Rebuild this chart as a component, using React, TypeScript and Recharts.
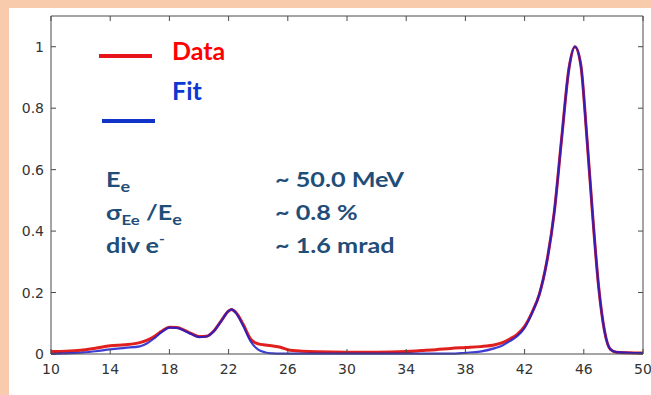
import { LineChart, Line, XAxis, YAxis } from "recharts"

// electron energy (MeV) sample points
const energy = [
  10, 11, 12, 13, 14, 15, 16, 16.5, 17, 17.5, 18, 18.5, 19, 19.5, 20, 20.5, 21, 21.5, 22, 22.2,
  22.5, 23, 23.5, 24, 24.5, 25, 25.5, 26, 27, 28, 30, 32, 34, 35, 36, 37, 38, 39, 40, 40.5, 41,
  41.5, 42, 42.5, 43, 43.5, 44, 44.5, 45, 45.4, 45.8, 46.2, 46.6, 47, 47.4, 47.8, 48.2, 49, 50,
]

const measured = [
  0.008, 0.009, 0.012, 0.019, 0.027, 0.03, 0.037, 0.045, 0.058, 0.075, 0.087, 0.086, 0.078, 0.066,
  0.057, 0.058, 0.075, 0.108, 0.14, 0.145, 0.135, 0.095, 0.048, 0.033, 0.029, 0.026, 0.022, 0.014,
  0.009, 0.007, 0.006, 0.006, 0.008, 0.011, 0.014, 0.018, 0.021, 0.024, 0.03, 0.037, 0.049, 0.064,
  0.09, 0.135, 0.195, 0.3, 0.46, 0.7, 0.93, 1.0, 0.94, 0.71, 0.45, 0.22, 0.075, 0.015, 0.006,
  0.004, 0.003,
]

const fitted = [
  0.0, 0.002, 0.004, 0.009, 0.015, 0.02, 0.025, 0.035, 0.052, 0.072, 0.086, 0.085, 0.076, 0.064,
  0.055, 0.057, 0.074, 0.107, 0.14, 0.145, 0.133, 0.09, 0.04, 0.014, 0.005, 0.002, 0.001, 0.001,
  0.001, 0.001, 0.001, 0.001, 0.001, 0.001, 0.001, 0.001, 0.004, 0.008, 0.019, 0.028, 0.042, 0.058,
  0.085, 0.133, 0.195, 0.3, 0.46, 0.7, 0.93, 1.0, 0.94, 0.71, 0.45, 0.22, 0.075, 0.015, 0.006,
  0.004, 0.003,
]

const xTicks = [10, 14, 18, 22, 26, 30, 34, 38, 42, 46, 50]
const yTicks = [0, 0.2, 0.4, 0.6, 0.8, 1]

const rows = energy.map((e, i) => ({ energy: e, data: measured[i], fit: fitted[i] }))

const tickFont = { fontSize: 14, fill: "#333333", fontFamily: "'DejaVu Sans', sans-serif" }
const axisLine = { stroke: "#4a4a4a", strokeWidth: 1 }
const tickLine = { stroke: "#4a4a4a", strokeWidth: 1 }
const noLabel = () => ""

export default function App() {
  return (
    <div style={{ position: "absolute", left: 0, top: 0, width: 651, height: 395, background: "#f8cbad", overflow: "hidden" }}>
      <div style={{ position: "absolute", left: 9, top: 8, width: 642, height: 387, background: "#ffffff" }}>
        <LineChart width={642} height={387} data={rows} margin={{ top: 7, right: 7, left: 0, bottom: 0 }}>
          <XAxis
            type="number"
            dataKey="energy"
            domain={[10, 50]}
            ticks={xTicks}
            height={41}
            tick={tickFont}
            fontSize={14}
            fontFamily="'DejaVu Sans', sans-serif"
            tickSize={-5}
            tickMargin={15}
            axisLine={axisLine}
            tickLine={tickLine}
            interval={0}
          />
          {/* box top with inward ticks */}
          <XAxis
            xAxisId="top"
            orientation="top"
            type="number"
            dataKey="energy"
            domain={[10, 50]}
            ticks={xTicks}
            height={1}
            tickSize={-5}
            tickMargin={0}
            tickFormatter={noLabel}
            axisLine={axisLine}
            tickLine={tickLine}
            interval={0}
          />
          <YAxis
            type="number"
            domain={[0, 1.1]}
            ticks={yTicks}
            width={42}
            tick={tickFont}
            fontSize={14}
            fontFamily="'DejaVu Sans', sans-serif"
            tickSize={-5}
            tickMargin={12}
            tickFormatter={(v: number) => String(Number(v.toFixed(1)))}
            axisLine={axisLine}
            tickLine={tickLine}
            interval={0}
          />
          {/* box right with inward ticks */}
          <YAxis
            yAxisId="right"
            orientation="right"
            type="number"
            domain={[0, 1.1]}
            ticks={yTicks}
            width={1}
            tickSize={-5}
            tickMargin={0}
            tickFormatter={noLabel}
            axisLine={axisLine}
            tickLine={tickLine}
            interval={0}
          />
          <Line
            type="monotone"
            dataKey="data"
            stroke="#e0201f"
            strokeWidth={3}
            dot={false}
            isAnimationActive={false}
            name="Data"
          />
          <Line
            xAxisId="top"
            yAxisId="right"
            type="monotone"
            dataKey="fit"
            stroke="#1c1ccc"
            strokeWidth={2.2}
            strokeOpacity={0.85}
            dot={false}
            isAnimationActive={false}
            name="Fit"
          />
        </LineChart>

        {/* legend and beam parameters */}
        <svg
          width={642}
          height={387}
          style={{ position: "absolute", left: 0, top: 0, pointerEvents: "none" }}
        >
          <g fontFamily="Lato, sans-serif" fontWeight={700} fontSize={25}>
            <line x1={90} x2={143} y1={48} y2={48} stroke="#e8141b" strokeWidth={4} />
            <text x={163} y={52} fill="#ff0000">Data</text>
            <line x1={93} x2={146} y1={113} y2={113} stroke="#1033c8" strokeWidth={4} />
            <text x={163} y={92} fill="#0a38d0">Fit</text>
          </g>
          <g fontFamily="Lato, sans-serif" fontWeight={700} fontSize={21} fill="#1f4e79">
            <g transform="translate(97,0) scale(1.2,1)">
              <text x={0} y={179}>
                E<tspan fontSize={15} dy={5}>e</tspan>
              </text>
              <text x={0} y={212}>
                σ<tspan fontSize={14} dy={5}>Ee</tspan>
                <tspan dy={-5}> /E</tspan>
                <tspan fontSize={15} dy={5}>e</tspan>
              </text>
              <text x={0} y={245}>
                div e<tspan fontSize={13} dy={-9}>-</tspan>
              </text>
            </g>
            <g transform="translate(266,0) scale(1.2,1)">
              <text x={0} y={179}>~ 50.0 MeV</text>
              <text x={0} y={212}>~ 0.8 %</text>
              <text x={0} y={245}>~ 1.6 mrad</text>
            </g>
          </g>
        </svg>
      </div>
    </div>
  )
}
